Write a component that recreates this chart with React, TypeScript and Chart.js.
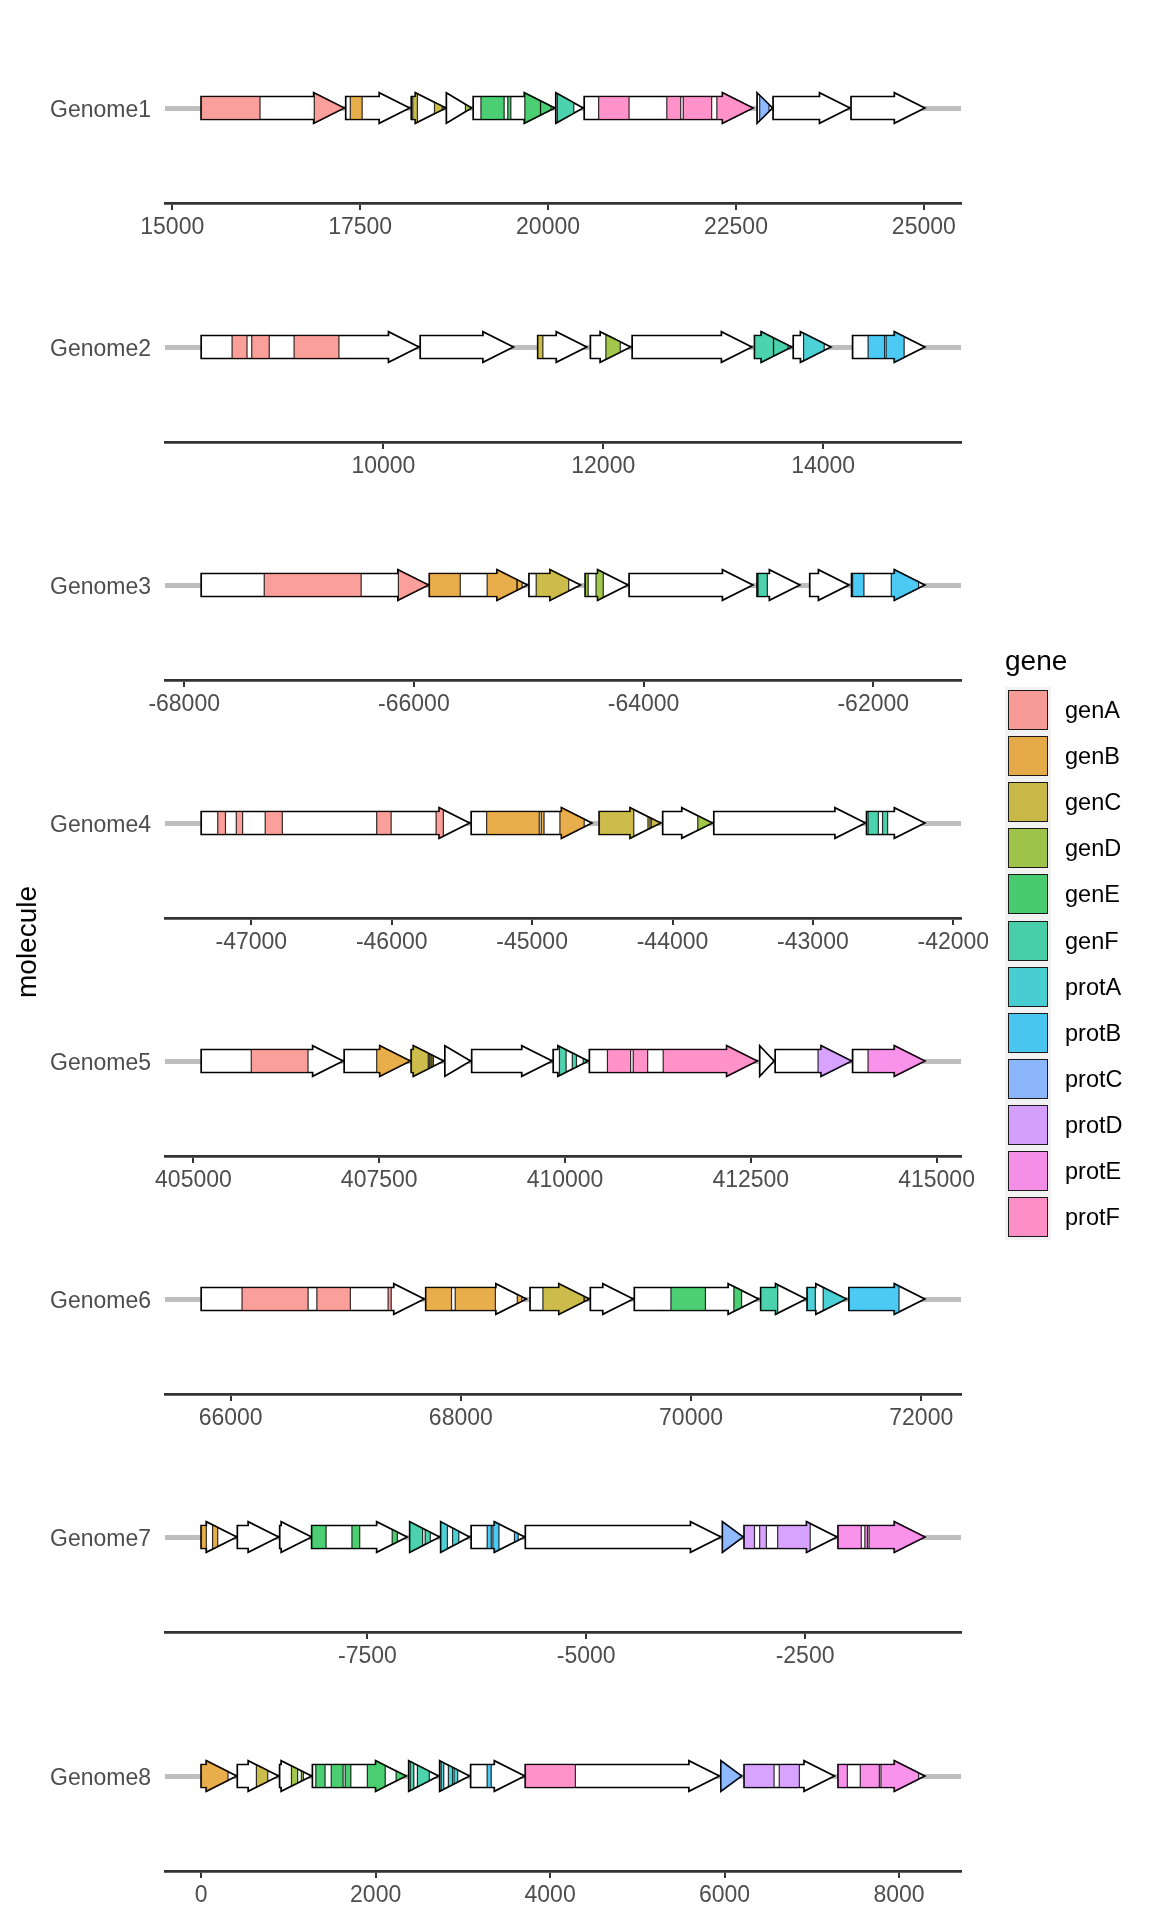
import React, { useEffect, useRef } from 'react';
import { Chart, registerables } from 'chart.js';

Chart.register(...registerables);

// ---------- data ----------
const molecules = ['Genome1', 'Genome2', 'Genome3', 'Genome4', 'Genome5', 'Genome6', 'Genome7', 'Genome8'];

const geneNames = ['genA', 'genB', 'genC', 'genD', 'genE', 'genF', 'protA', 'protB', 'protC', 'protD', 'protE', 'protF'];
const geneColors = ['#F8766D', '#DE8C00', '#B79F00', '#7CAE00', '#00BA38', '#00C08B', '#00BFC4', '#00B4F0', '#619CFF', '#C77CFF', '#F564E3', '#FF64B0'];

// genes: [start, end]
const genome1Genes = [[15385, 17287], [17308, 18159], [18180, 18640], [18647, 18983], [19004, 20089], [20103, 20467], [20481, 22726], [22781, 22987], [22994, 24017], [24031, 25013]];
const genome2Genes = [[8343, 10324], [10335, 11183], [11404, 11850], [11883, 12249], [12263, 13352], [13376, 13714], [13728, 14071], [14268, 14925]];
const genome3Genes = [[-67852, -65874], [-65865, -65011], [-64998, -64549], [-64508, -64135], [-64126, -63048], [-63012, -62639], [-62553, -62212], [-62189, -61551]];
const genome4Genes = [[-47357, -45445], [-45434, -44574], [-44522, -44085], [-44070, -43717], [-43706, -42626], [-42618, -42203]];
const genome5Genes = [[405104, 407014], [407028, 407917], [407931, 408369], [408383, 408730], [408744, 409828], [409841, 410314], [410328, 412585], [412620, 412814], [412828, 413856], [413870, 414842]];
const genome6Genes = [[65744, 67682], [67695, 68569], [68601, 69116], [69125, 69498], [69507, 70587], [70605, 70999], [71009, 71349], [71372, 72031]];
const genome7Genes = [[-9399, -8992], [-8986, -8514], [-8502, -8137], [-8137, -7046], [-7017, -6675], [-6663, -6333], [-6315, -5702], [-5696, -3461], [-3444, -3208], [-3196, -2135], [-2123, -1132]];
const genome8Genes = [[0, 408], [414, 888], [899, 1266], [1275, 2349], [2379, 2722], [2734, 3077], [3089, 3710], [3716, 5941], [5958, 6195], [6225, 7260], [7302, 8296]];

// subgenes: [gene, from, to]
const genome1Subgenes: [string, number, number][] = [['genA', 15385, 16168], ['genA', 16890, 17287], ['genB', 17369, 17527], ['genC', 18200, 18262], ['genC', 18489, 18592], ['genD', 18901, 18970], ['genE', 19107, 19416], ['genE', 19464, 19505], ['genE', 19691, 19900], ['genE', 19900, 20040], ['genF', 20124, 20343], ['protF', 20673, 21078], ['protF', 21580, 21765], ['protF', 21799, 22177], ['protF', 22246, 22726], ['protC', 22816, 22940]];
const genome2Subgenes: [string, number, number][] = [['genA', 8624, 8760], ['genA', 8803, 8962], ['genA', 9188, 9596], ['genC', 11404, 11451], ['genD', 12024, 12155], ['genF', 13376, 13549], ['genF', 13549, 13681], ['protA', 13822, 14010], ['protB', 14409, 14559], ['protB', 14573, 14737]];
const genome3Subgenes: [string, number, number][] = [['genA', -67303, -66459], ['genA', -66135, -65874], ['genB', -65865, -65596], ['genB', -65362, -65101], ['genB', -65101, -65057], ['genC', -64935, -64652], ['genD', -64508, -64482], ['genD', -64414, -64351], ['genF', -63003, -62922], ['protB', -62180, -62081], ['protB', -61843, -61605]];
const genome4Subgenes: [string, number, number][] = [['genA', -47239, -47184], ['genA', -47107, -47062], ['genA', -46901, -46779], ['genA', -46107, -46004], ['genA', -45684, -45632], ['genB', -45324, -44949], ['genB', -44935, -44915], ['genB', -44802, -44629], ['genC', -44522, -44276], ['genC', -44175, -44160], ['genC', -44151, -44085], ['genD', -43820, -43717], ['genF', -42607, -42534], ['genF', -42504, -42468]];
const genome5Subgenes: [string, number, number][] = [['genA', 405778, 406542], ['genB', 407466, 407917], ['genC', 407931, 408160], ['genC', 408174, 408195], ['genC', 408209, 408230], ['genF', 409925, 410015], ['genF', 410098, 410154], ['genF', 410245, 410280], ['protF', 410571, 410883], ['protF', 410918, 411112], ['protF', 411321, 412585], ['protD', 413405, 413856], ['protE', 414078, 414842]];
const genome6Subgenes: [string, number, number][] = [['genA', 66099, 66673], ['genA', 66749, 67040], ['genA', 67368, 67395], ['genB', 67695, 67919], ['genB', 67951, 68300], ['genB', 68490, 68530], ['genC', 68713, 69072], ['genC', 69072, 69105], ['genE', 69825, 70125], ['genE', 70372, 70439], ['genF', 70605, 70753], ['protA', 71009, 71080], ['protA', 71148, 71349], ['protB', 71372, 71807]];
const genome7Subgenes: [string, number, number][] = [['genB', -9399, -9340], ['genB', -9269, -9210], ['genE', -8137, -7972], ['genE', -7677, -7588], ['genE', -7217, -7158], ['genF', -7017, -6869], ['genF', -6840, -6781], ['protA', -6663, -6586], ['protA', -6527, -6456], ['protB', -6132, -6085], ['protB', -6067, -5997], ['protB', -5820, -5778], ['protC', -3444, -3208], ['protD', -3196, -3078], ['protD', -3019, -2942], ['protD', -2813, -2441], ['protE', -2123, -1858], ['protE', -1817, -1787], ['protE', -1769, -1132]];
const genome8Subgenes: [string, number, number][] = [['genB', 0, 308], ['genC', 633, 763], ['genD', 1035, 1106], ['genD', 1148, 1172], ['genE', 1314, 1420], ['genE', 1491, 1627], ['genE', 1651, 1716], ['genE', 1905, 2110], ['genE', 2235, 2349], ['genF', 2397, 2438], ['genF', 2479, 2615], ['protA', 2751, 2781], ['protA', 2834, 2882], ['protA', 2899, 2941], ['protB', 3278, 3325], ['protF', 3716, 4290], ['protC', 5958, 6195], ['protD', 6225, 6568], ['protD', 6627, 6858], ['protE', 7302, 7408], ['protE', 7556, 7775], ['protE', 7793, 8225]];

// x-axis tick labels per panel
const genome1Ticks = [15000, 17500, 20000, 22500, 25000];
const genome2Ticks = [10000, 12000, 14000];
const genome3Ticks = [-68000, -66000, -64000, -62000];
const genome4Ticks = [-47000, -46000, -45000, -44000, -43000, -42000];
const genome5Ticks = [405000, 407500, 410000, 412500, 415000];
const genome6Ticks = [66000, 68000, 70000, 72000];
const genome7Ticks = [-7500, -5000, -2500];
const genome8Ticks = [0, 2000, 4000, 6000, 8000];

const allGenes = [genome1Genes, genome2Genes, genome3Genes, genome4Genes, genome5Genes, genome6Genes, genome7Genes, genome8Genes];
const allSubgenes = [genome1Subgenes, genome2Subgenes, genome3Subgenes, genome4Subgenes, genome5Subgenes, genome6Subgenes, genome7Subgenes, genome8Subgenes];
const allTicks = [genome1Ticks, genome2Ticks, genome3Ticks, genome4Ticks, genome5Ticks, genome6Ticks, genome7Ticks, genome8Ticks];

// ---------- styling ----------
const FONT = '"Liberation Sans", Arial, Helvetica, sans-serif';
const HEAD_W = 30.5;
const HEAD_H = 30.5;
const BODY_H = 23;
const ROW_Y0 = 108.3;
const ROW_STEP = 238.2;
const PAD_TOP = 40;
const PANEL_HALF = 95;
const XAXIS_H = 50;
const CANVAS_W = 1020;
const CANVAS_H = PAD_TOP + 2 * PANEL_HALF + XAXIS_H;

function withAlpha(hex: string, a: number) {
  const r = parseInt(hex.slice(1, 3), 16);
  const g = parseInt(hex.slice(3, 5), 16);
  const b = parseInt(hex.slice(5, 7), 16);
  return `rgba(${r},${g},${b},${a})`;
}

function colorOf(gene: string) {
  return withAlpha(geneColors[geneNames.indexOf(gene)], 0.7);
}

function arrowPoints(a: number, b: number, x0: number, x1: number, yc: number) {
  const hw = Math.min(HEAD_W, x1 - x0);
  const xh = x1 - hw;
  const halfAt = (x: number, isStart: boolean) => {
    if (isStart ? x < xh : x <= xh) return BODY_H / 2;
    return hw > 0 ? (HEAD_H / 2) * (x1 - x) / hw : 0;
  };
  const top: [number, number][] = [[a, halfAt(a, true)]];
  if (a < xh && b > xh) {
    top.push([xh, BODY_H / 2], [xh, HEAD_H / 2]);
  }
  top.push([b, halfAt(b, false)]);
  const pts: [number, number][] = top.map(([x, h]) => [x, yc - h]);
  for (let i = top.length - 1; i >= 0; i--) pts.push([top[i][0], yc + top[i][1]]);
  const out: [number, number][] = [];
  pts.forEach((p) => {
    const q = out[out.length - 1];
    if (!q || Math.abs(q[0] - p[0]) > 0.01 || Math.abs(q[1] - p[1]) > 0.01) out.push(p);
  });
  return out;
}

function tracePath(ctx: CanvasRenderingContext2D, pts: [number, number][]) {
  ctx.beginPath();
  pts.forEach(([x, y], i) => (i === 0 ? ctx.moveTo(x, y) : ctx.lineTo(x, y)));
  ctx.closePath();
}

function makeGenePlugin(genes: number[][], subs: [string, number, number][]) {
  return {
    id: 'geneArrows',
    afterDatasetsDraw(chart: any) {
      const ctx: CanvasRenderingContext2D = chart.ctx;
      const xs = chart.scales.x;
      const ys = chart.scales.y;
      const yc = ys.getPixelForValue(0);
      ctx.save();
      ctx.lineJoin = 'miter';
      ctx.miterLimit = 10;
      genes.forEach(([s, e]) => {
        const x0 = xs.getPixelForValue(s);
        const x1 = xs.getPixelForValue(e);
        tracePath(ctx, arrowPoints(x0, x1, x0, x1, yc));
        ctx.fillStyle = '#FFFFFF';
        ctx.fill();
        ctx.lineWidth = 1.7;
        ctx.strokeStyle = '#000000';
        ctx.stroke();
      });
      subs.forEach(([g, a, b]) => {
        const parent = genes.find(([s, e]) => a >= s - 2 && b <= e + 2);
        if (!parent) return;
        const x0 = xs.getPixelForValue(parent[0]);
        const x1 = xs.getPixelForValue(parent[1]);
        const pa = Math.max(x0, xs.getPixelForValue(a));
        const pb = Math.min(x1, xs.getPixelForValue(b));
        if (pb <= pa) return;
        tracePath(ctx, arrowPoints(pa, pb, x0, x1, yc));
        ctx.fillStyle = colorOf(g);
        ctx.fill();
        ctx.lineWidth = 1.2;
        ctx.strokeStyle = 'rgba(0,0,0,0.8)';
        ctx.stroke();
      });
      ctx.restore();
    },
  };
}

function Panel({ idx }: { idx: number }) {
  const ref = useRef<HTMLCanvasElement>(null);
  const yc = Math.round(ROW_Y0 + ROW_STEP * idx);
  useEffect(() => {
    const genes = allGenes[idx];
    const subs = allSubgenes[idx];
    const ticks = allTicks[idx];
    let mn = Infinity;
    let mx = -Infinity;
    genes.forEach(([s, e]) => {
      mn = Math.min(mn, s, e);
      mx = Math.max(mx, s, e);
    });
    const pad = (mx - mn) * 0.05;
    const label = molecules[idx];
    const chart = new Chart(ref.current as HTMLCanvasElement, {
      type: 'bar',
      data: {
        labels: [label],
        datasets: [
          {
            data: genes.map(([s, e]) => ({ x: [s, e], y: label })) as any,
            backgroundColor: 'rgba(0,0,0,0)',
            borderWidth: 0,
          },
        ],
      },
      options: {
        indexAxis: 'y',
        responsive: false,
        animation: false,
        devicePixelRatio: 1,
        layout: { padding: { top: PAD_TOP, right: CANVAS_W - 961, left: 0, bottom: 0 } },
        plugins: { legend: { display: false }, tooltip: { enabled: false } },
        scales: {
          x: {
            type: 'linear',
            position: 'bottom',
            min: mn - pad,
            max: mx + pad,
            afterBuildTicks: (scale: any) => {
              scale.ticks = ticks.map((v) => ({ value: v }));
            },
            afterFit: (scale: any) => {
              scale.height = XAXIS_H;
            },
            ticks: {
              autoSkip: false,
              maxRotation: 0,
              color: '#4D4D4D',
              font: { family: FONT, size: 23 },
              padding: 3.5,
              callback: (v: any) => String(v),
            },
            grid: {
              drawOnChartArea: false,
              drawTicks: true,
              tickLength: 7,
              color: '#333333',
              lineWidth: 2,
            },
            border: { display: true, color: '#333333', width: 2.7 },
          },
          y: {
            type: 'category',
            offset: true,
            afterFit: (scale: any) => {
              scale.width = 165;
            },
            ticks: {
              color: '#4D4D4D',
              font: { family: FONT, size: 23 },
              padding: 14,
              labelOffset: 2.5,
            },
            grid: {
              display: true,
              offset: false,
              drawTicks: false,
              color: '#BEBEBE',
              lineWidth: 5,
            },
            border: { display: false },
          },
        },
      } as any,
      plugins: [makeGenePlugin(genes, subs)],
    });
    return () => chart.destroy();
  }, [idx]);
  return (
    <canvas
      ref={ref}
      width={CANVAS_W}
      height={CANVAS_H}
      style={{ position: 'absolute', left: 0, top: yc - PANEL_HALF - PAD_TOP, width: CANVAS_W, height: CANVAS_H }}
    />
  );
}

export default function App() {
  const keyTop = 690;
  const keyStep = 46.1;
  return (
    <div style={{ position: 'absolute', left: 0, top: 0, width: 1152, height: 1920, background: '#FFFFFF', overflow: 'hidden', fontFamily: FONT }}>
      {molecules.map((m, i) => (
        <Panel key={m} idx={i} />
      ))}
      <div
        style={{
          position: 'absolute',
          left: 27,
          top: 942,
          transform: 'translate(-50%, -50%) rotate(-90deg)',
          fontSize: 28,
          lineHeight: '28px',
          color: '#000000',
          whiteSpace: 'nowrap',
        }}
      >
        molecule
      </div>
      <div style={{ position: 'absolute', left: 1005, top: 647, fontSize: 28, lineHeight: '28px', color: '#000000' }}>gene</div>
      <div style={{ position: 'absolute', left: 1004.7, top: keyTop - 3, width: 46, height: geneNames.length * keyStep, background: '#F2F2F2' }} />
      {geneNames.map((g, i) => (
        <React.Fragment key={g}>
          <div
            style={{
              position: 'absolute',
              left: 1007.7,
              top: keyTop + i * keyStep,
              width: 40,
              height: 40,
              boxSizing: 'border-box',
              border: '1.6px solid #1A1A1A',
              background: colorOf(g),
            }}
          />
          <div
            style={{
              position: 'absolute',
              left: 1065,
              top: keyTop + i * keyStep,
              height: 40,
              lineHeight: '40px',
              fontSize: 23.5,
              color: '#000000',
            }}
          >
            {g}
          </div>
        </React.Fragment>
      ))}
    </div>
  );
}
